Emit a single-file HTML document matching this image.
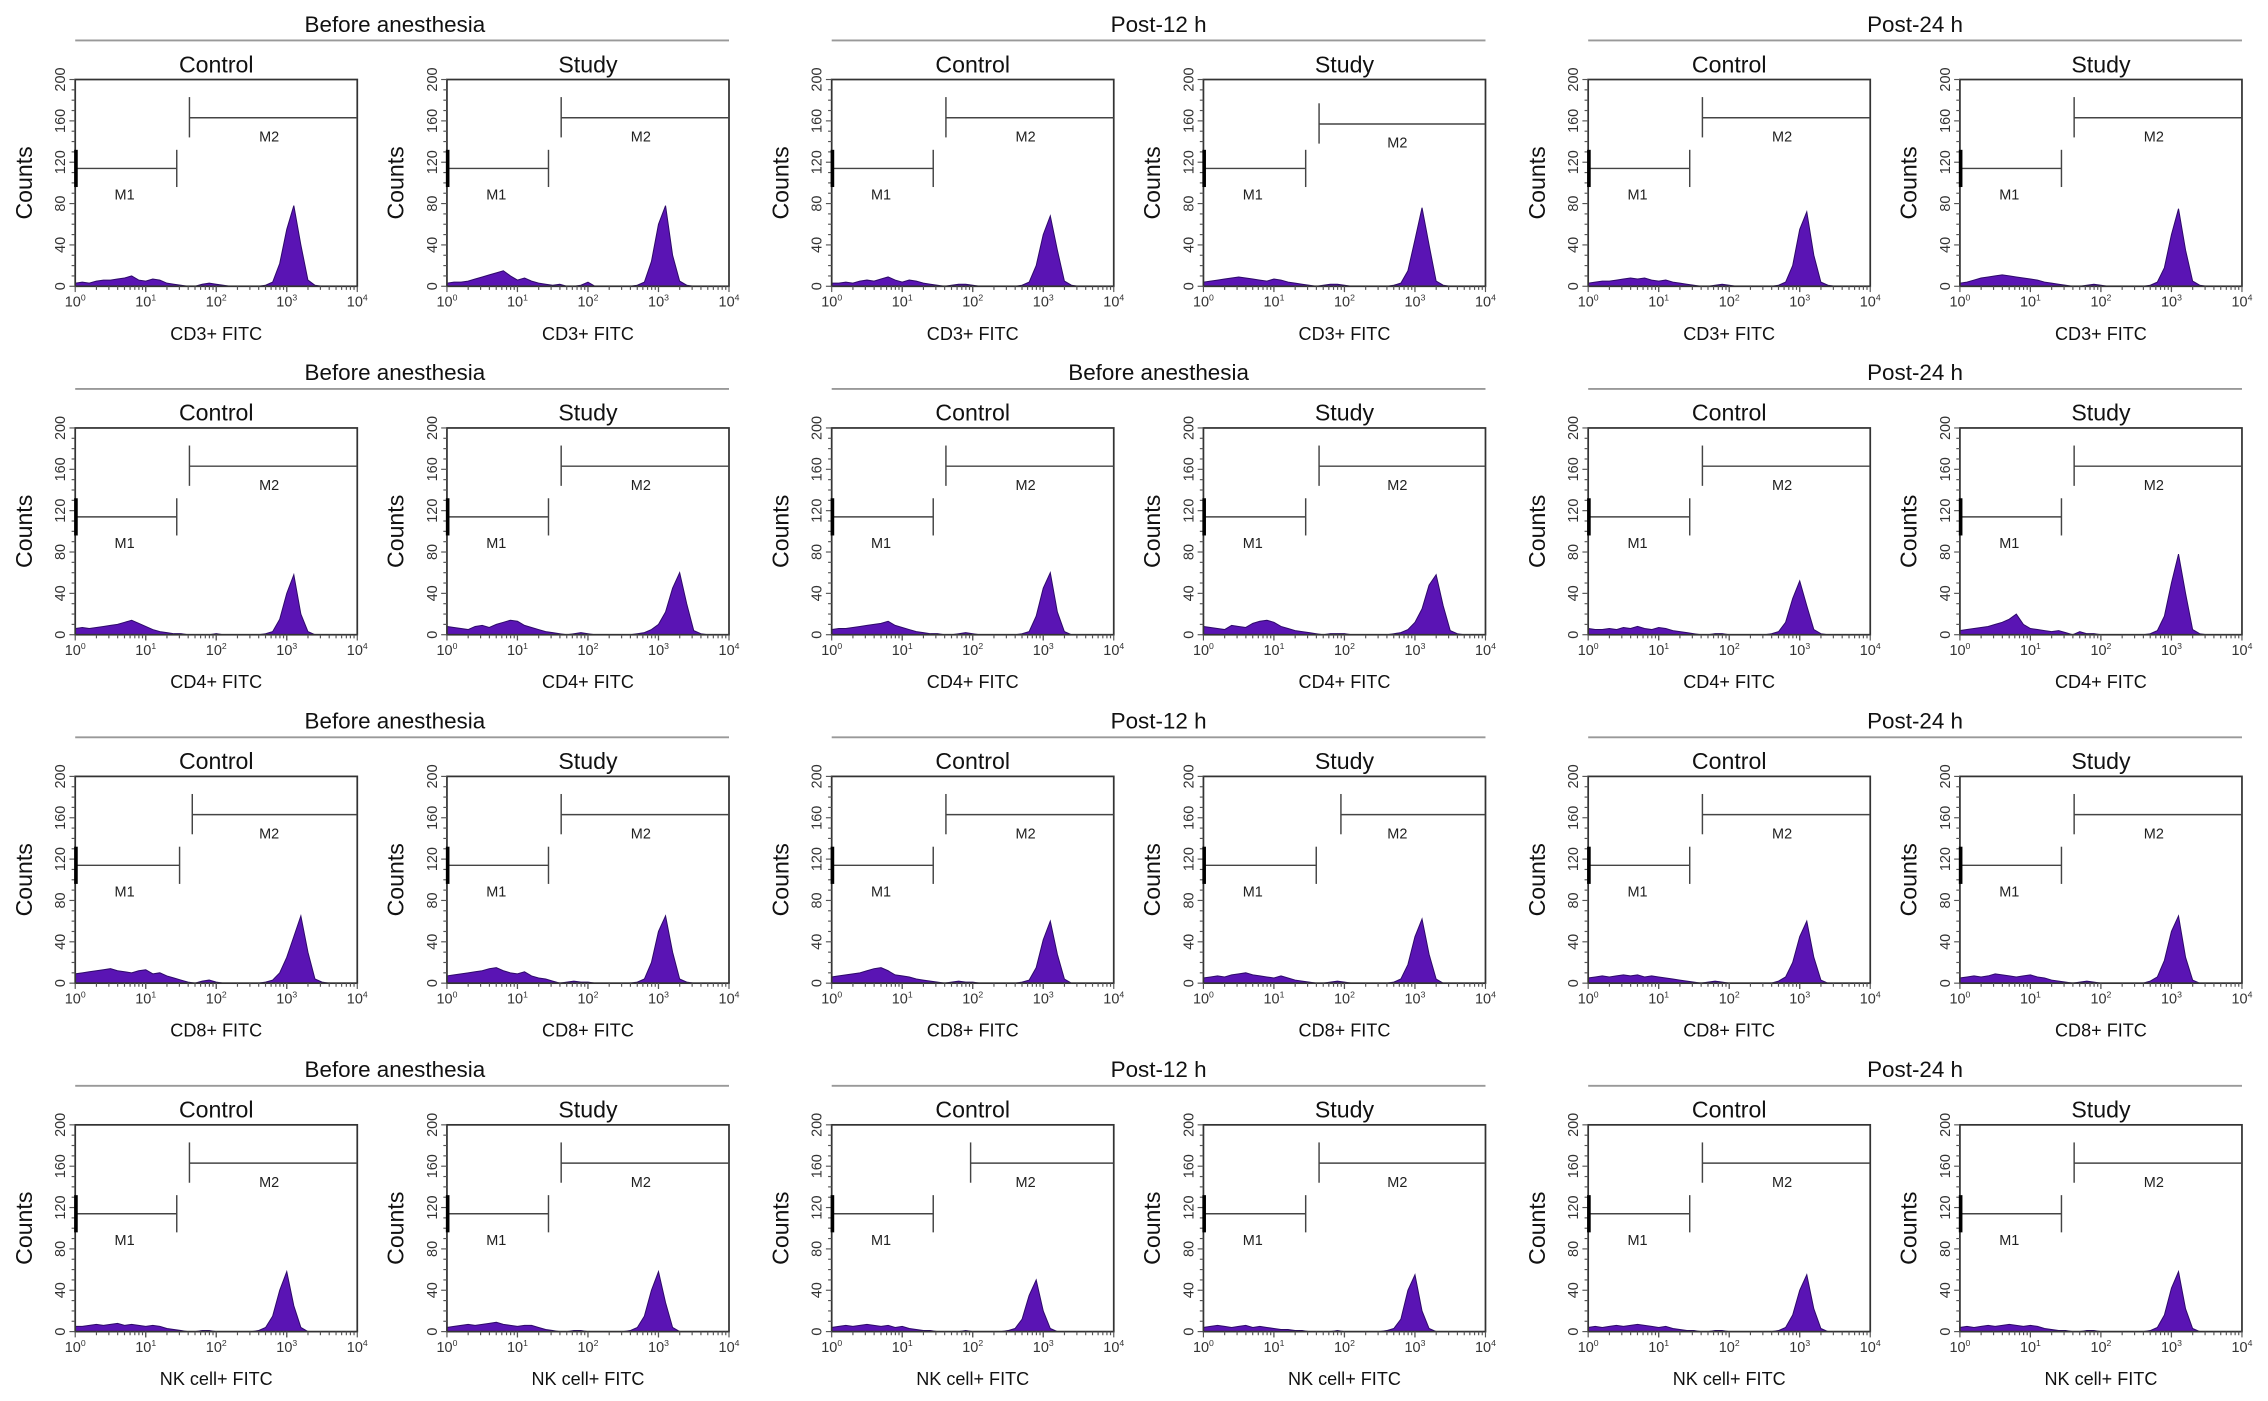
<!DOCTYPE html>
<html><head><meta charset="utf-8"><style>
html,body{margin:0;padding:0;background:#fff;}
svg{display:block;font-family:"Liberation Sans",Arial,sans-serif;}
</style></head><body>
<svg id="fig" width="2268" height="1401" viewBox="0 0 1568 969" preserveAspectRatio="none" xmlns="http://www.w3.org/2000/svg"></svg>
<script>
const rowMarkers = ["CD3+ FITC","CD4+ FITC","CD8+ FITC","NK cell+ FITC"];
const groupTitles = [
 ["Before anesthesia","Post-12 h","Post-24 h"],
 ["Before anesthesia","Before anesthesia","Post-24 h"],
 ["Before anesthesia","Post-12 h","Post-24 h"],
 ["Before anesthesia","Post-12 h","Post-24 h"]];
const panelTitles = ["Control","Study"];
const yTicks = [0,40,80,120,160,200];
const xTicks = [0,1,2,3,4];
// histogram counts at log10 positions 0.0,0.1,...,4.0 (41 bins), per panel row-major
const counts = [
 [3,4,3,5,6,6,7,8,10,6,5,7,6,3,2,1,0,0,2,3,2,1,0,0,0,0,0,1,4,22,55,78,40,6,1,0,0,0,0,0,0],
 [3,4,4,5,7,9,11,13,15,10,6,8,5,3,2,1,2,0,0,1,4,0,0,0,0,0,0,1,4,24,60,78,30,5,1,0,0,0,0,0,0],
 [3,3,4,3,5,6,5,7,9,6,4,6,5,3,2,1,0,1,2,2,1,0,0,0,0,0,0,1,4,20,50,68,35,5,1,0,0,0,0,0,0],
 [4,5,6,7,8,9,8,7,6,5,7,6,4,3,2,1,0,1,2,2,1,0,0,0,0,0,0,1,3,15,45,76,40,5,1,0,0,0,0,0,0],
 [3,4,5,5,6,7,8,7,8,6,5,6,4,3,2,1,0,0,1,2,1,0,0,0,0,0,0,1,4,20,55,72,30,4,1,0,0,0,0,0,0],
 [3,4,6,8,9,10,11,10,9,8,7,6,4,3,2,1,0,0,1,2,1,0,0,0,0,0,0,1,4,18,50,75,35,5,1,0,0,0,0,0,0],
 [6,7,6,7,8,9,10,12,14,11,8,5,3,2,1,1,0,0,0,0,1,0,0,0,0,0,0,1,3,15,40,58,20,3,0,0,0,0,0,0,0],
 [8,7,6,5,8,9,7,10,12,14,13,9,7,5,3,2,1,0,1,2,1,0,0,0,0,0,0,1,2,5,10,22,45,60,30,4,1,0,0,0,0],
 [5,6,6,7,8,9,10,11,13,9,7,5,3,2,1,1,0,0,1,2,1,0,0,0,0,0,0,1,3,18,45,60,22,3,0,0,0,0,0,0,0],
 [8,7,6,5,9,8,7,11,13,14,12,8,6,4,3,2,1,0,1,1,1,0,0,0,0,0,0,1,2,5,12,25,48,58,28,4,1,0,0,0,0],
 [6,5,5,6,5,7,6,8,6,5,7,6,4,3,2,1,0,0,1,1,0,0,0,0,0,0,1,3,12,35,52,28,5,1,0,0,0,0,0,0,0],
 [4,5,6,7,8,10,12,15,20,10,6,5,4,3,4,2,0,3,1,1,0,0,0,0,0,0,0,1,4,18,50,78,40,5,1,0,0,0,0,0,0],
 [9,10,11,12,13,14,12,11,10,12,13,9,10,7,5,3,1,0,2,3,1,0,0,0,0,0,0,1,3,10,25,45,65,30,4,1,0,0,0,0,0],
 [7,8,9,10,11,12,14,15,12,10,9,11,7,5,4,2,0,1,2,1,1,0,0,0,0,0,0,1,4,20,50,65,30,4,1,0,0,0,0,0,0],
 [6,7,8,9,10,12,14,15,12,8,7,6,4,3,2,1,0,1,2,1,1,0,0,0,0,0,0,1,3,15,42,60,28,4,0,0,0,0,0,0,0],
 [5,6,7,6,8,9,10,8,7,6,5,7,5,3,2,1,0,0,1,2,1,0,0,0,0,0,0,1,4,18,45,62,28,4,0,0,0,0,0,0,0],
 [5,6,7,6,7,8,7,8,6,7,6,5,4,3,2,1,0,1,2,1,0,0,0,0,0,0,0,2,6,20,45,60,25,3,0,0,0,0,0,0,0],
 [5,6,7,6,7,9,8,7,6,7,8,6,5,3,2,1,0,1,2,1,0,0,0,0,0,0,0,2,6,22,50,65,25,3,0,0,0,0,0,0,0],
 [5,5,6,7,6,7,8,6,7,6,5,6,5,3,2,1,0,0,1,1,0,0,0,0,0,0,1,4,15,40,58,25,4,0,0,0,0,0,0,0,0],
 [4,5,6,7,6,7,8,9,7,6,5,6,6,4,2,1,0,0,1,1,0,0,0,0,0,0,1,4,15,40,58,28,4,0,0,0,0,0,0,0,0],
 [4,5,6,5,6,7,6,5,6,4,5,3,2,1,1,0,0,0,0,1,0,0,0,0,0,1,3,12,35,50,20,3,0,0,0,0,0,0,0,0,0],
 [4,5,6,5,4,5,6,4,5,4,3,2,2,1,1,0,0,0,0,1,0,0,0,0,0,0,1,3,12,40,55,20,3,0,0,0,0,0,0,0,0],
 [4,5,4,5,6,5,6,7,6,5,4,5,3,2,1,1,0,0,1,1,0,0,0,0,0,0,0,1,4,16,40,55,22,3,0,0,0,0,0,0,0],
 [4,5,4,5,6,5,6,7,6,5,6,5,3,2,1,1,0,0,1,1,0,0,0,0,0,0,0,1,4,16,42,58,22,3,0,0,0,0,0,0,0]
];
// gate M1 end and M2 start (log10 units), per panel
const m1End = [1.44,1.44,1.44,1.45,1.44,1.44, 1.44,1.44,1.44,1.45,1.44,1.44, 1.48,1.44,1.44,1.6,1.44,1.44, 1.44,1.44,1.44,1.45,1.44,1.44];
const m2Start = [1.62,1.62,1.62,1.64,1.62,1.62, 1.62,1.62,1.62,1.64,1.62,1.62, 1.66,1.62,1.62,1.95,1.62,1.62, 1.62,1.62,1.97,1.64,1.62,1.62];
const m2Level = [163,163,163,157,163,163, 163,163,163,163,163,163, 163,163,163,163,163,163, 163,163,163,163,163,163];

const NS="http://www.w3.org/2000/svg";
const svg=document.getElementById('fig');
function mk(tag,attrs,parent){const e=document.createElementNS(NS,tag);for(const k in attrs)e.setAttribute(k,attrs[k]);(parent||svg).appendChild(e);return e;}
const boxL=[52,309,575,832,1098,1355], W=195, H=143, top0=55, rowStep=241;

for(let r=0;r<4;r++){
  const top=top0+r*rowStep, bot=top+H;
  for(let g=0;g<3;g++){
    const gl=boxL[g*2], gr=boxL[g*2+1]+W;
    const gt=mk('text',{x:(gl+gr)/2-(g===0?5:0),y:top-33,'text-anchor':'middle','font-size':15.5,fill:'#111'});
    gt.textContent=groupTitles[r][g];
    
    
    const ln=mk('line',{x1:gl,x2:gr,y1:top-27,y2:top-27,stroke:'#999','stroke-width':1.3});
    
    
  }
  for(let c=0;c<6;c++){
    const p=r*6+c, L=boxL[c], R=L+W;
    const sx=v=>L+v/4*W, sy=v=>bot-v/200*H;
    const grp=mk('g',{});
    
    
    const t=mk('text',{x:L+W/2,y:top-5,'text-anchor':'middle','font-size':16,fill:'#111'},grp);
    t.textContent=panelTitles[c%2];
    
    
    let d='M'+sx(0)+','+sy(0);
    counts[p].forEach((v,i)=>{d+=' L'+sx(i*0.1).toFixed(2)+','+sy(v).toFixed(2);});
    d+=' L'+sx(4)+','+sy(0)+' Z';
    const h=mk('path',{d:d,fill:'#5a14b4',stroke:'#2e0a6a','stroke-width':0.7},grp);
    
    
    const b=mk('rect',{x:L,y:top,width:W,height:H,fill:'none',stroke:'#333','stroke-width':1.2},grp);
    
    
    for(let v=0;v<=200;v+=10){mk('line',{x1:L-(v%40===0?4:2.5),x2:L,y1:sy(v),y2:sy(v),stroke:'#555','stroke-width':0.8},grp);}
    yTicks.forEach(v=>{const tt=mk('text',{x:L-7,y:sy(v),'font-size':10,fill:'#333','text-anchor':'middle',transform:`rotate(-90 ${L-7} ${sy(v)})`},grp);tt.textContent=v;
      
      });
    const yl=mk('text',{x:L-36,y:top+H/2,'font-size':16,fill:'#111','text-anchor':'middle',transform:`rotate(-90 ${L-36} ${top+H/2}) translate(0,6)`},grp);
    yl.textContent='Counts';
    
    
    for(let dcd=0;dcd<4;dcd++){for(let m=1;m<=10;m++){const x=sx(dcd+Math.log10(m));mk('line',{x1:x,x2:x,y1:bot,y2:bot+(m===1||m===10?4:2.5),stroke:'#555','stroke-width':0.8},grp);}}
    xTicks.forEach(v=>{const tt=mk('text',{x:sx(v),y:bot+14,'font-size':10,fill:'#333','text-anchor':'middle'},grp);
      tt.innerHTML='10<tspan dy="-4" font-size="6">'+v+'</tspan>';
      
      });
    const xl=mk('text',{x:L+W/2,y:bot+37,'font-size':12.5,fill:'#111','text-anchor':'middle'},grp);
    xl.textContent=rowMarkers[r];
    
    
    const g1=mk('g',{stroke:'#444','stroke-width':1},grp);
    
    
    mk('line',{x1:sx(0),x2:sx(m1End[p]),y1:sy(114),y2:sy(114)},g1);
    mk('line',{x1:sx(0)+0.5,x2:sx(0)+0.5,y1:sy(96),y2:sy(132),'stroke-width':2.5,stroke:'#000'},g1);
    mk('line',{x1:sx(m1End[p]),x2:sx(m1End[p]),y1:sy(96),y2:sy(132)},g1);
    const g2=mk('g',{stroke:'#444','stroke-width':1},grp);
    
    
    mk('line',{x1:sx(m2Start[p]),x2:R,y1:sy(m2Level[p]),y2:sy(m2Level[p])},g2);
    mk('line',{x1:sx(m2Start[p]),x2:sx(m2Start[p]),y1:sy(m2Level[p]-19),y2:sy(m2Level[p]+20)},g2);
    const t1=mk('text',{x:sx(0.7),y:sy(84),'font-size':10,fill:'#222','text-anchor':'middle'},grp);t1.textContent='M1';
    
    
    const t2=mk('text',{x:sx(2.75),y:sy(m2Level[p]-23),'font-size':10,fill:'#222','text-anchor':'middle'},grp);t2.textContent='M2';
    
    
  }
}
</script>
</body></html>
